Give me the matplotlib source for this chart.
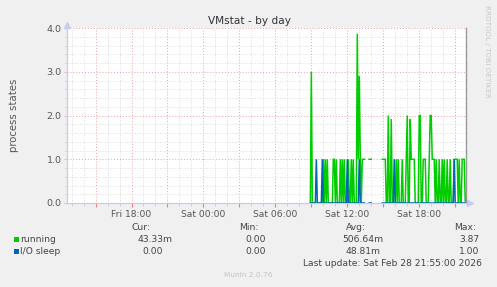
import numpy as np
import matplotlib
matplotlib.use("Agg")
import matplotlib.pyplot as plt
from matplotlib.ticker import FixedLocator, MultipleLocator, FixedFormatter
from matplotlib.patches import Rectangle

nan = np.nan

# ---- data (5-minute samples starting Sat 08:55) ----
running = [
    0, 3.0, 0, 0, 0, 0, 0, 0, 0, 0,
    0, 0, 0, 1, 0, 1, 0, 1, 0, 0,
    0, 0, 0, 1, 1, 0, 1, 0, 0, 0,
    1, 0, 1, 0, 1, 0, 0, 0, 1, 0,
    0, 1, 0, 1, 0, 0, 0, 3.87, 1, 2.9,
    1, 0, 1, 1, 1, nan, nan, nan, nan, 1,
    1, 1, nan, nan, nan, nan, nan, nan, nan, nan,
    nan, nan, 1, 1, 1, 1, 0, 0, 2.0, 0,
    0, 1.92, 0, 0, 0, 0, 1, 0, 1, 0,
    0, 0, 1, 0, 0, 0, 1, 2.0, 0, 0,
    1.92, 1, 1, 1, 1, 0, 0, 0, 0, 2.0,
    2.0, 0, 0, 1, 1, 1, 0, 0, 0, 1,
    2.0, 2.0, 1, 1, 1, 0, 1, 0, 0, 1,
    0, 0, 1, 0, 1, 0, 0, 1, 0, 0,
    1, 0, 0, 0, 1, 1, 1, 1, 0, 1,
    0, 0, 1, 1, 1, 0.04333,
]
io_sleep = [
    0, 0, 0, 0, 0, 0, 1, 0, 0, 0,
    0, 0, 1, 0, 0, 0, 0, 0, 0, 0,
    0, 0, 0, 0, 0, 0, 0, 0, 0, 0,
    0, 0, 0, 0, 0, 0, 0, 1, 0, 0,
    0, 0, 0, 0, 0, 0, 0, 0, 0, 1,
    0, 0, 0, 0, 0, nan, nan, nan, nan, 0,
    0, 0, nan, nan, nan, nan, nan, nan, nan, nan,
    nan, nan, 0, 0, 0, 0, 0, 0, 0, 0,
    0, 0, 0, 0, 1, 0, 0, 0, 0, 0,
    0, 0, 0, 0, 0, 0, 0, 0, 0, 0,
    0, 0, 0, 0, 0, 0, 0, 0, 0, 0,
    0, 0, 0, 0, 0, 0, 0, 0, 0, 0,
    0, 0, 0, 0, 0, 0, 0, 0, 0, 0,
    0, 0, 0, 0, 0, 0, 0, 0, 0, 0,
    0, 0, 0, 0, 1, 0, 0, 0, 0, 0,
    0, 0, 0, 0, 0, 0,
]
start_hour = 8 + 55 / 60      # hours relative to Sat 00:00
step_hours = 5 / 60
x_range = [-11.38, 21.9]

tick_hours = [-6, 0, 6, 12, 18]
tick_labels = ["Fri 18:00", "Sat 00:00", "Sat 06:00", "Sat 12:00", "Sat 18:00"]
y_ticks = [0, 1, 2, 3, 4]
y_tick_labels = ["0.0", "1.0", "2.0", "3.0", "4.0"]

series_names = ["running", "I/O sleep"]
series_colors = ["#00CC00", "#0066B3"]
stat_headers = ["Cur:", "Min:", "Avg:", "Max:"]
cur_vals = ["43.33m", "0.00"]
min_vals = ["0.00", "0.00"]
avg_vals = ["506.64m", "48.81m"]
max_vals = ["3.87", "1.00"]

title = "VMstat - by day"
y_label = "process states"
last_update = "Last update: Sat Feb 28 21:55:00 2026"
footer = "Munin 2.0.76"
side_text = "RRDTOOL / TOBI OETIKER"

# ---- figure ----
W, H = 497, 287
fig = plt.figure(figsize=(W / 100, H / 100), dpi=100, facecolor="#F0F0F0")
plt.rcParams["font.family"] = ["DejaVu Sans"]

def fx(x):
    return x / W

def fy(y):
    return 1 - y / H

ax = fig.add_axes([fx(67), fy(203), 399 / W, 175 / H])
ax.set_facecolor("white")

n = len(running)
t = start_hour + step_hours * np.arange(n)
ax.plot(t, running, color=series_colors[0], lw=1.1, solid_joinstyle="miter", zorder=3)
ax.plot(t, io_sleep, color=series_colors[1], lw=1.1, solid_joinstyle="miter", zorder=4)

ax.set_xlim(*x_range)
ax.set_ylim(0, 4)

major_x = list(range(-9, 22, 3))
lab_map = dict(zip(tick_hours, tick_labels))
ax.xaxis.set_major_locator(FixedLocator(major_x))
ax.xaxis.set_major_formatter(FixedFormatter([lab_map.get(h, "") for h in major_x]))
ax.xaxis.set_minor_locator(MultipleLocator(1))
ax.yaxis.set_major_locator(FixedLocator(y_ticks))
ax.yaxis.set_major_formatter(FixedFormatter(y_tick_labels))
ax.yaxis.set_minor_locator(MultipleLocator(0.2))

ax.grid(which="minor", color="#D4D4D4", linestyle=(0, (1, 2)), linewidth=0.6, zorder=1)
ax.grid(which="major", color="#EBA0A0", linestyle=(0, (1, 2)), linewidth=0.7, zorder=2)
ax.set_axisbelow(True)

ax.tick_params(axis="x", which="major", length=3, color="#E88080", labelsize=6.6,
               labelcolor="#555555", pad=2)
ax.tick_params(axis="x", which="minor", length=2, color="#C8C8C8")
ax.tick_params(axis="y", which="major", length=2, color="#C8C8C8", labelsize=6.8,
               labelcolor="#555555", pad=2)
ax.tick_params(axis="y", which="minor", length=1.5, color="#C8C8C8")

for s in ["top"]:
    ax.spines[s].set_visible(False)
ax.spines["left"].set_color("#C8CCF0")
ax.spines["bottom"].set_color("#C8CCF0")
ax.spines["left"].set_linewidth(0.9)
ax.spines["bottom"].set_linewidth(0.9)
ax.spines["right"].set_color("#999999")
ax.spines["right"].set_linewidth(1.0)

# axis arrows
ax.plot([0], [1.02], marker="^", color="#C8CCF0", markersize=4, transform=ax.transAxes, clip_on=False)
ax.plot([1.01], [0], marker=">", color="#C8CCF0", markersize=4, transform=ax.transAxes, clip_on=False)

# titles
fig.text(fx(250), fy(21), title, ha="center", va="center", fontsize=7.6, color="#333333")
fig.text(fx(14), fy(115), y_label, ha="center", va="center", rotation=90, fontsize=7.3,
         color="#555555")
fig.text(fx(487.5), fy(51), side_text, ha="center", va="center", rotation=270, fontsize=5.2,
         color="#C8C8C8")

# legend
txt = dict(fontsize=6.6, color="#444444", va="center")
hdr_right = [151, 259, 366, 476]
for hx, h in zip(hdr_right, stat_headers):
    fig.text(fx(hx), fy(227), h, ha="right", **txt)

row_y = [239.5, 251.5]
col_right = [[172.5, 265.5, 383, 479], [163, 265.5, 380, 479]]
for i, name in enumerate(series_names):
    y = row_y[i]
    fig.patches.append(Rectangle((fx(14), fy(y + 2.6)), 5.2 / W, 5.2 / H,
                                 transform=fig.transFigure, facecolor=series_colors[i],
                                 edgecolor="none"))
    fig.text(fx(20.3), fy(y), name, ha="left", **txt)
    vals = [cur_vals[i], min_vals[i], avg_vals[i], max_vals[i]]
    for cx, v in zip(col_right[i], vals):
        fig.text(fx(cx), fy(y), v, ha="right", **txt)

fig.text(fx(482), fy(263.5), last_update, ha="right", **txt)
fig.text(fx(248), fy(274.7), footer, ha="center", va="center", fontsize=5.3, color="#C4C4C4")

fig.savefig("out.png", dpi=100, facecolor=fig.get_facecolor())
